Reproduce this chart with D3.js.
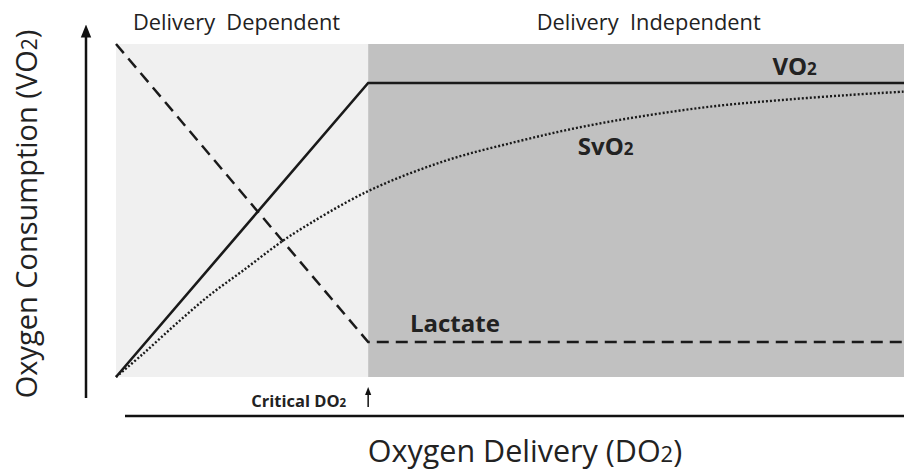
<!DOCTYPE html>
<html>
<head>
<meta charset="utf-8">
<script src="https://cdn.jsdelivr.net/npm/d3@7"></script>
<style>
  body { margin: 0; background: #fff; overflow: hidden; }
  svg { display: block; }
  text { font-family: "Open Sans", sans-serif; fill: #222; }
</style>
</head>
<body>
<div class="chart"></div>
<script>
const width = 904;
const height = 472;
const margin = { top: 44, right: 0, bottom: 95, left: 116 };
const innerWidth = width - margin.left - margin.right;
const innerHeight = height - margin.top - margin.bottom;

// oxygen delivery (x) vs value (y), both 0-100, no units
const criticalDO2 = 32;
const regions = [
  { name: "Delivery\u00a0\u00a0Dependent", from: 0, to: criticalDO2, labelAt: 15.3, fill: "#f0f0f0" },
  { name: "Delivery\u00a0\u00a0Independent", from: criticalDO2, to: 100, labelAt: 67.6, fill: "#c1c1c1" }
];
const vo2 = [[0, 0], [criticalDO2, 88.3], [100, 88.3]];
const lactate = [[0, 100], [criticalDO2, 10.5], [100, 10.5]];
const svo2 = [
  [0, 0], [3.5, 7.1], [7.7, 16.1], [11.9, 24.6], [16.2, 32.1], [20.4, 39.6],
  [22.9, 43.6], [31.8, 55.6], [41.5, 64.7], [50.9, 70.7], [59.3, 75.2],
  [67.8, 78.7], [76.2, 81.4], [84.6, 83.2], [93.1, 84.7], [100, 85.7]
];
// curve labels: [x, y, main text, subscript]
const labels = [
  [83.3, 90.7, "VO", "2"],
  [58.6, 66.7, "SvO", "2"],
  [37.3, 13.5, "Lactate", null]
];

const x = d3.scaleLinear().domain([0, 100]).range([0, innerWidth]);
const y = d3.scaleLinear().domain([0, 100]).range([innerHeight, 0]);

let svg = d3.select(".chart")
  .append("svg")
  .attr("width", width)
  .attr("height", height);

let defs = svg.append("defs");
defs.append("marker")
  .attr("id", "arrow")
  .attr("viewBox", "0 0 10 10")
  .attr("refX", 5).attr("refY", 5)
  .attr("markerWidth", 5.2).attr("markerHeight", 5.2)
  .attr("orient", "auto")
  .append("path")
  .attr("d", "M0,1 L10,5 L0,9 Z")
  .attr("fill", "#111");

let g = svg.append("g")
  .attr("transform", `translate(${margin.left},${margin.top})`);

// shaded regions
g.selectAll(".region")
  .data(regions)
  .enter().append("rect")
  .attr("class", "region")
  .attr("x", d => x(d.from))
  .attr("y", 0)
  .attr("width", d => x(d.to) - x(d.from))
  .attr("height", innerHeight)
  .attr("fill", d => d.fill);

g.selectAll(".region-label")
  .data(regions)
  .enter().append("text")
  .attr("class", "region-label")
  .attr("x", d => x(d.labelAt))
  .attr("y", -14)
  .attr("text-anchor", "middle")
  .attr("font-size", 21.8)
  .attr("fill", "#333")
  .text(d => d.name);

const line = d3.line().x(d => x(d[0])).y(d => y(d[1]));

g.append("path")
  .datum(vo2)
  .attr("d", line)
  .attr("fill", "none")
  .attr("stroke", "#1a1a1a")
  .attr("stroke-width", 2.6);

g.append("path")
  .datum(lactate)
  .attr("d", line)
  .attr("fill", "none")
  .attr("stroke", "#1a1a1a")
  .attr("stroke-width", 2.5)
  .attr("stroke-dasharray", "12,7");

g.append("path")
  .datum(svo2)
  .attr("d", line.curve(d3.curveCatmullRom))
  .attr("fill", "none")
  .attr("stroke", "#1a1a1a")
  .attr("stroke-width", 2.4)
  .attr("stroke-dasharray", "2,2");

// curve labels
let lab = g.selectAll(".curve-label")
  .data(labels)
  .enter().append("text")
  .attr("class", "curve-label")
  .attr("x", d => x(d[0]))
  .attr("y", d => y(d[1]))
  .attr("font-size", 24)
  .attr("font-weight", "bold");
lab.append("tspan").text(d => d[2]);
lab.filter(d => d[3])
  .append("tspan").attr("font-size", 17).text(d => d[3]);

// axes (arrows)
svg.append("line")
  .attr("x1", 86).attr("y1", 398)
  .attr("x2", 86).attr("y2", 31)
  .attr("stroke", "#111")
  .attr("stroke-width", 2.5)
  .attr("marker-end", "url(#arrow)");

svg.append("line")
  .attr("x1", 125).attr("y1", 416)
  .attr("x2", 910).attr("y2", 416)
  .attr("stroke", "#111")
  .attr("stroke-width", 2.5)
  .attr("marker-end", "url(#arrow)");

// critical DO2 marker
svg.append("line")
  .attr("x1", margin.left + x(criticalDO2)).attr("y1", 407)
  .attr("x2", margin.left + x(criticalDO2)).attr("y2", 391)
  .attr("stroke", "#111")
  .attr("stroke-width", 1.5)
  .attr("marker-end", "url(#arrow)");

let crit = svg.append("text")
  .attr("x", margin.left + x(criticalDO2) - 22)
  .attr("y", 407)
  .attr("text-anchor", "end")
  .attr("font-size", 16.5)
  .attr("font-weight", "bold")
  .attr("fill", "#333");
crit.append("tspan").text("Critical DO");
crit.append("tspan").attr("font-size", 11.5).text("2");

// axis titles
let xt = svg.append("text")
  .attr("x", 525)
  .attr("y", 462)
  .attr("text-anchor", "middle")
  .attr("font-size", 30.5)
  .attr("fill", "#333");
xt.append("tspan").text("Oxygen Delivery (DO");
xt.append("tspan").attr("font-size", 22).text("2");
xt.append("tspan").text(")");

let yt = svg.append("text")
  .attr("transform", "translate(37,214) rotate(-90)")
  .attr("text-anchor", "middle")
  .attr("font-size", 29)
  .attr("fill", "#333");
yt.append("tspan").text("Oxygen Consumption (VO");
yt.append("tspan").attr("font-size", 21).text("2");
yt.append("tspan").text(")");
</script>
</body>
</html>
